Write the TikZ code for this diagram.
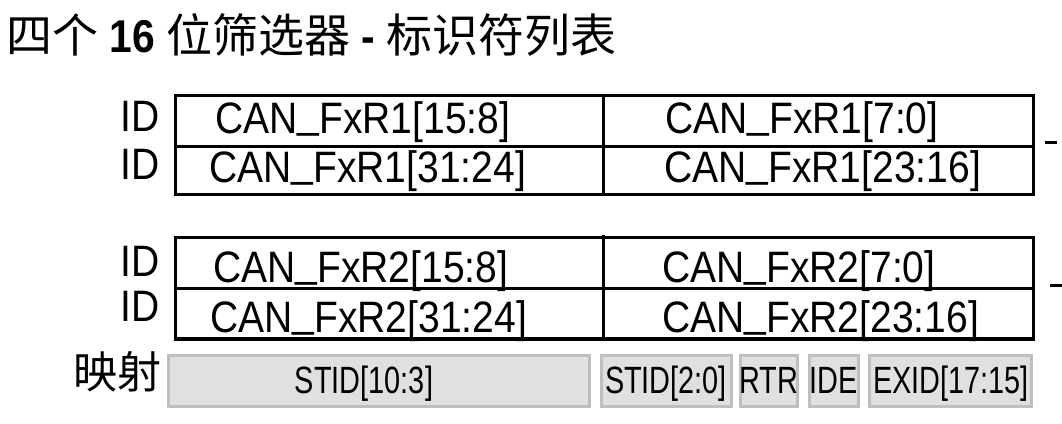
\documentclass[tikz,border=0pt]{standalone}
\usepackage{fontspec}
\setmainfont[FakeStretch=0.887]{Liberation Sans}
\newfontfamily\narrowsf[FakeStretch=0.76]{Liberation Sans}
\newfontfamily\cjk{Noto Sans CJK SC}
\usetikzlibrary{calc}
\newcommand{\us}{\raisebox{0.12em}{\_}}

\tikzset{
	regtext/.style={font=\fontsize{44}{44}\selectfont, anchor=base west, inner sep=0pt},
	idtext/.style={font=\fontsize{44}{44}\selectfont, anchor=base east, inner sep=0pt},
	bitbox/.style={draw=black!25, fill=black!12, line width=3pt},
	bittext/.style={font=\fontsize{38}{38}\narrowsf, anchor=base, inner sep=0pt},
}

\begin{document}
\begin{tikzpicture}[x=1pt, y=-1pt]
		%%%%% START %%%%%
		\useasboundingbox (0, 0) rectangle (1062, 423);
		
		\node[anchor=base west, inner sep=0pt, font=\fontsize{46}{46}\selectfont] (title) at (6, 52)
			{{\cjk 四个} {\bfseries 16} {\cjk 位筛选器} {\bfseries -} {\cjk 标识符列表}};
		
		% filter bank register 1
		\draw[line width=3.5pt] (175.5, 95.3) rectangle (1033.3, 194.3);
		\draw[line width=3.5pt] (175.5, 146.3) -- (1033.3, 146.3);
		\draw[line width=3.5pt] (603.3, 95.3) -- (603.3, 194.3);
		\draw[line width=3pt] (1045, 142) -- (1057, 142);
		
		\node[idtext] (id1a) at (160, 131) {ID};
		\node[idtext] (id1b) at (160, 179) {ID};
		\node[regtext] (r1a) at (215, 133) {CAN\us FxR1[15:8]};
		\node[regtext] (r1b) at (665, 133) {CAN\us FxR1[7:0]};
		\node[regtext] (r1c) at (209, 182) {CAN\us FxR1[31:24]};
		\node[regtext] (r1d) at (664, 182) {CAN\us FxR1[23:16]};
		
		% filter bank register 2
		\draw[line width=3.5pt] (175.5, 237.7) rectangle (1033.3, 339);
		\draw[line width=3.5pt] (175.5, 288.3) -- (1033.3, 288.3);
		\draw[line width=3.5pt] (603.3, 235) -- (603.3, 339);
		\draw[line width=3pt] (1050, 285) -- (1062, 285);
		
		\node[idtext] (id2a) at (160, 276) {ID};
		\node[idtext] (id2b) at (160, 321) {ID};
		\node[regtext] (r2a) at (213, 282) {CAN\us FxR2[15:8]};
		\node[regtext] (r2b) at (662, 282) {CAN\us FxR2[7:0]};
		\node[regtext] (r2c) at (210, 332) {CAN\us FxR2[31:24]};
		\node[regtext] (r2d) at (662, 332) {CAN\us FxR2[23:16]};
		
		% mapping
		\node[anchor=base east, inner sep=0pt, font=\fontsize{44}{44}\cjk] (map) at (162, 388) {映射};
		
		\draw[bitbox] (168.5, 355.5) rectangle (589, 406.5);
		\draw[bitbox] (601.5, 355.5) rectangle (731, 406.5);
		\draw[bitbox] (740.5, 355.5) rectangle (797.5, 406.5);
		\draw[bitbox] (809.5, 355.5) rectangle (858.5, 406.5);
		\draw[bitbox] (869.5, 355.5) rectangle (1031.5, 406.5);
		
		\node[bittext] (stidh) at (364, 393) {STID[10:3]};
		\node[bittext] (stidl) at (666, 393) {STID[2:0]};
		\node[bittext] (rtr) at (769, 393) {RTR};
		\node[bittext] (ide) at (834, 393) {IDE};
		\node[bittext] (exid) at (951, 393) {EXID[17:15]};
		
		%%%%% END %%%%%
	\end{tikzpicture}
\end{document}
